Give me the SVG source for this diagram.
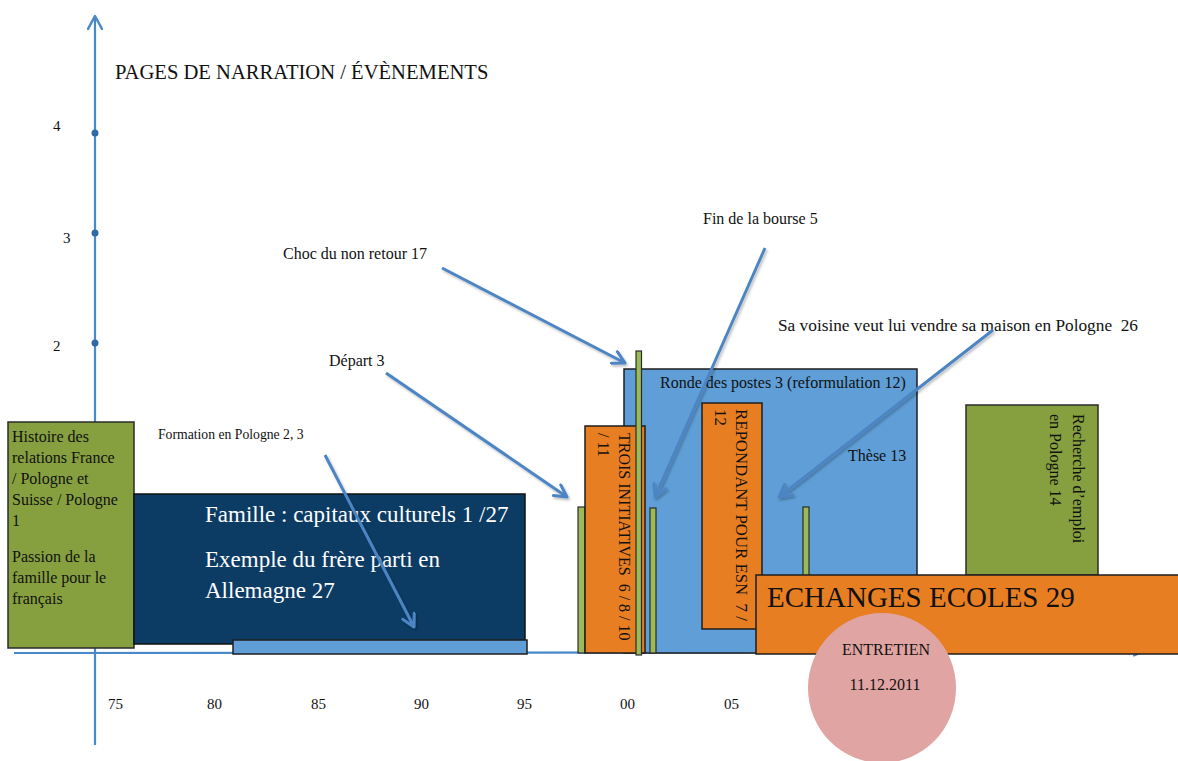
<svg xmlns="http://www.w3.org/2000/svg" width="1178" height="761" viewBox="0 0 1178 761">
<style>
text{font-family:"Liberation Serif","Times New Roman",serif;fill:#111}
.t16{font-size:16px}
.ax{font-size:15px}
.axis{stroke:#4a89c8;stroke-width:2.2;fill:none}
.olive{fill:#86a03f;stroke:#2b2b2b;stroke-width:1.5}
.lg{fill:#9bbb59;stroke:#2b2b2b;stroke-width:1.2}
.orange{fill:#e87e22;stroke:#1e1e1e;stroke-width:1.5}
.lblue{fill:#5f9ed6;stroke:#1e1e1e;stroke-width:1.5}
.navy{fill:#0c3c64;stroke:#111;stroke-width:1.5}
.arr{stroke:#4d85c4;stroke-width:3;fill:none;marker-end:url(#ah);filter:url(#sh)}
.w{fill:#fff;font-size:23px}
</style>
<defs>
<filter id="sh" x="-10%" y="-10%" width="130%" height="130%">
<feDropShadow dx="1.5" dy="2" stdDeviation="1.2" flood-color="#000" flood-opacity="0.25"/>
</filter>
<marker id="ah" markerUnits="userSpaceOnUse" viewBox="0 0 16 16" refX="14" refY="8" markerWidth="16" markerHeight="16" orient="auto">
<path d="M2,1.5 L14,8 L2,14.5" fill="none" stroke="#4d85c4" stroke-width="3" stroke-linecap="round" stroke-linejoin="round"/>
</marker>
<marker id="axh" markerUnits="userSpaceOnUse" viewBox="0 0 16 16" refX="14" refY="8" markerWidth="16" markerHeight="16" orient="auto">
<path d="M1,1 L14,8 L1,15" fill="none" stroke="#4a89c8" stroke-width="2.5" stroke-linecap="round" stroke-linejoin="round"/>
</marker>
<marker id="axh2" markerUnits="userSpaceOnUse" viewBox="0 0 10 10" refX="9" refY="5" markerWidth="10" markerHeight="10" orient="auto">
<path d="M1,1.5 L9,5 L1,8.5" fill="none" stroke="#4a89c8" stroke-width="2" stroke-linecap="round" stroke-linejoin="round"/>
</marker>
</defs>

<g id="axes">
<line class="axis" x1="95" y1="745" x2="95" y2="16" marker-end="url(#axh)"/>
<line class="axis" x1="14" y1="653" x2="1142" y2="652" marker-end="url(#axh2)"/>
<circle cx="95" cy="133" r="3.5" fill="#2f6aa6"/>
<circle cx="95" cy="233" r="3.5" fill="#2f6aa6"/>
<circle cx="95" cy="343" r="3.5" fill="#2f6aa6"/>
<text class="ax" x="53" y="131">4</text>
<text class="ax" x="63" y="243">3</text>
<text class="ax" x="53" y="351">2</text>
<text x="115" y="79" style="font-size:20.6px">PAGES DE NARRATION / ÉVÈNEMENTS</text>
<text class="ax" x="108" y="709">75</text>
<text class="ax" x="207" y="709">80</text>
<text class="ax" x="311" y="709">85</text>
<text class="ax" x="414" y="709">90</text>
<text class="ax" x="517" y="709">95</text>
<text class="ax" x="620" y="709">00</text>
<text class="ax" x="724" y="709">05</text>
</g>

<g id="histoire">
<rect class="olive" x="8" y="422" width="126" height="226"/>
<text class="t16"><tspan x="12" y="442">Histoire des</tspan><tspan x="12" y="463">relations France</tspan><tspan x="12" y="484">/ Pologne et</tspan><tspan x="12" y="505">Suisse / Pologne</tspan><tspan x="12" y="526">1</tspan><tspan x="12" y="562">Passion de la</tspan><tspan x="12" y="583">famille pour le</tspan><tspan x="12" y="604">français</tspan></text>
</g>

<g id="famille">
<rect class="navy" x="134" y="494" width="391" height="150"/>
<text class="w" x="205" y="522">Famille : capitaux culturels 1 /27</text>
<text class="w"><tspan x="205" y="567">Exemple du frère parti en</tspan><tspan x="205" y="598">Allemagne 27</tspan></text>
</g>

<g id="formation-bar">
<rect class="lblue" x="233" y="640" width="294" height="14"/>
</g>

<g id="ronde">
<rect class="lblue" x="624" y="369" width="293" height="284"/>
<text class="t16" x="660" y="388">Ronde des postes 3 (reformulation 12)</text>
<text class="t16" x="848" y="461">Thèse 13</text>
</g>

<g id="bar-depart">
<rect class="lg" x="578" y="507" width="7" height="146"/>
</g>

<g id="trois">
<rect class="orange" x="585" y="426" width="60" height="227"/>
<text class="t16" transform="translate(619,433) rotate(90)" xml:space="preserve">TROIS INITIATIVES  6 / 8 / 10</text>
<text class="t16" transform="translate(598,433) rotate(90)">/ 11</text>
</g>

<g id="bar-choc">
<rect class="lg" x="636" y="351" width="5.5" height="304"/>
</g>

<g id="bar-fin">
<rect class="lg" x="650" y="508" width="6" height="145"/>
</g>

<g id="repondant">
<rect class="orange" x="702" y="403" width="60" height="226"/>
<text transform="translate(736,409) rotate(90)" xml:space="preserve" style="font-size:16.8px">REPONDANT POUR ESN  7 /</text>
<text transform="translate(715,409) rotate(90)" style="font-size:16.8px">12</text>
</g>

<g id="bar-voisine">
<rect class="lg" x="803" y="507" width="6" height="80"/>
</g>

<g id="recherche">
<rect class="olive" x="966" y="405" width="132" height="170"/>
<text class="t16" transform="translate(1073,414) rotate(90)">Recherche d’emploi</text>
<text class="t16" transform="translate(1050,414) rotate(90)">en Pologne 14</text>
</g>

<g id="echanges">
<rect class="orange" x="756" y="575" width="424" height="79"/>
<text x="767" y="607" style="font-size:29px">ECHANGES ECOLES 29</text>
</g>

<g id="entretien">
<ellipse cx="882" cy="688" rx="74" ry="75" fill="#e0a4a2"/>
<text class="t16" x="886" y="655" text-anchor="middle">ENTRETIEN</text>
<text class="t16" x="885" y="690" text-anchor="middle">11.12.2011</text>
</g>

<g id="labels">
<text x="158" y="439" style="font-size:13.7px">Formation en Pologne 2, 3</text>
<text class="t16" x="329" y="366">Départ 3</text>
<text class="t16" x="283" y="259">Choc du non retour 17</text>
<text class="t16" x="703" y="224">Fin de la bourse 5</text>
<text x="778" y="331" xml:space="preserve" style="font-size:17.3px">Sa voisine veut lui vendre sa maison en Pologne  26</text>
</g>

<g id="connectors">
<line class="arr" x1="325" y1="455" x2="414" y2="627"/>
<line class="arr" x1="386" y1="373" x2="567" y2="497"/>
<line class="arr" x1="442" y1="268" x2="625" y2="363"/>
<line class="arr" x1="765" y1="248" x2="655" y2="497"/>
<line class="arr" x1="993" y1="330" x2="779" y2="497"/>
</g>
</svg>
